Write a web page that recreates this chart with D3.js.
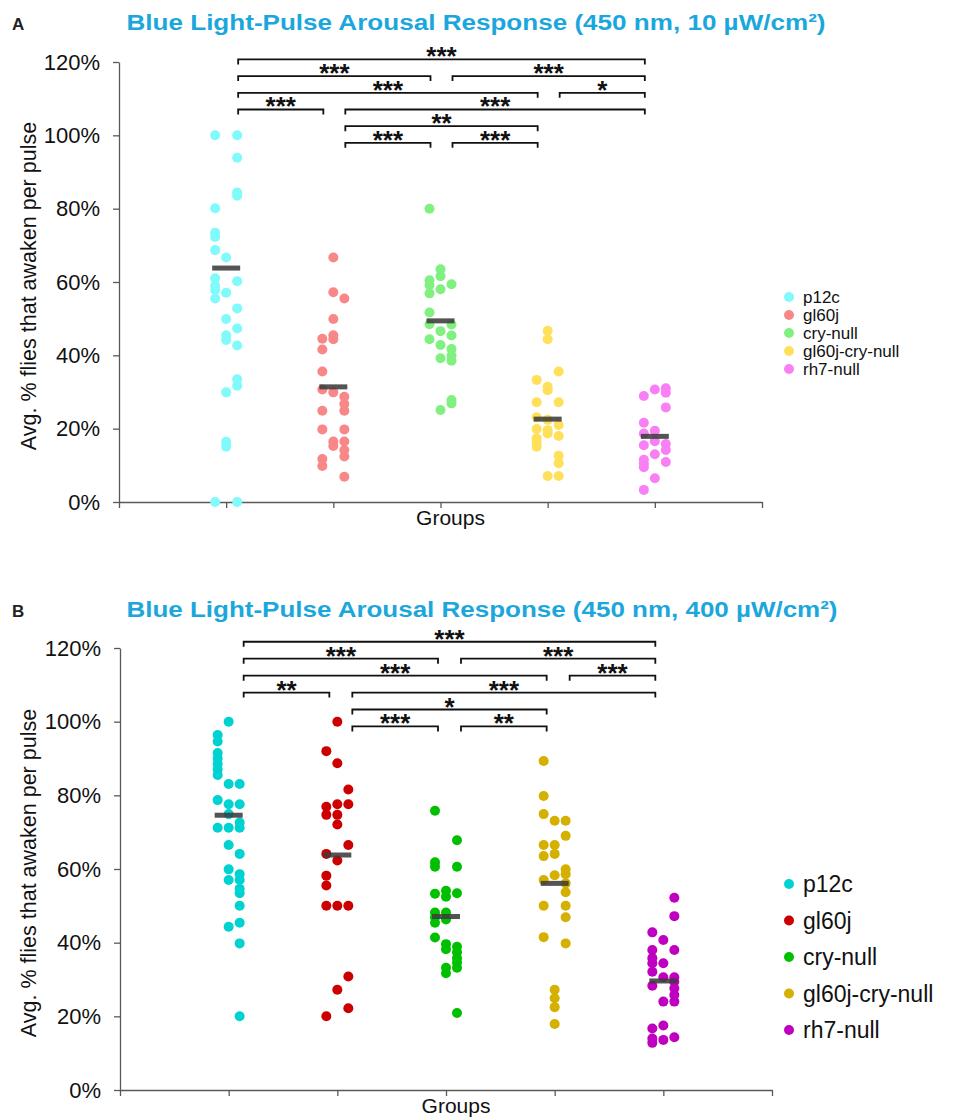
<!DOCTYPE html>
<html>
<head>
<meta charset="utf-8">
<script src="https://cdn.jsdelivr.net/npm/d3@7"></script>
<style>
  body { margin: 0; background: #fff; }
  text { font-family: "Liberation Sans", Arial, sans-serif; }
</style>
</head>
<body>
<svg id="chart" width="960" height="1117"></svg>
<script>
// ---- categories & labels ----
const groups = ["p12c", "gl60j", "cry-null", "gl60j-cry-null", "rh7-null"];
const yTicks = [0, 20, 40, 60, 80, 100, 120];
const titleA = "Blue Light-Pulse Arousal Response (450 nm, 10 µW/cm²)";
const titleB = "Blue Light-Pulse Arousal Response (450 nm, 400 µW/cm²)";
const yLabel = "Avg. % flies that awaken per pulse";
const xLabel = "Groups";

// ---- panel A (10 µW/cm²): per-fly values (%), split into three swarm lanes ----
const p12cA  = [[100, 80.1, 73.4, 72.3, 68.7, 61.0, 59.0, 57.8, 55.5, 0],
                [66.7, 57.1, 49.9, 45.5, 44.2, 29.9, 16.4, 15.1],
                [100, 93.9, 84.4, 83.5, 60.2, 52.8, 47.3, 42.7, 33.5, 31.7, 0]];
const gl60jA = [[44.5, 41.6, 35.6, 30.7, 24.9, 19.8, 11.7, 9.8],
                [66.7, 57.2, 49.9, 45.5, 44.4, 29.9, 16.5, 15.3],
                [55.5, 28.7, 26.7, 24.9, 19.8, 16.5, 14.2, 12.4, 6.9]];
const cryA   = [[80.0, 60.5, 59.2, 56.9, 51.7, 48.5, 44.4],
                [63.5, 61.6, 58.0, 46.6, 42.8, 39.2, 25.1],
                [59.4, 48.4, 45.4, 41.7, 39.9, 38.5, 27.8, 26.9]];
const gl60jCryA = [[33.3, 27.2, 23.1, 19.9, 17.4, 16.2, 15.1],
                   [46.7, 44.4, 31.4, 30.5, 22.4, 19.6, 18.7, 7.1],
                   [35.6, 27.2, 21.0, 18.0, 12.6, 10.6, 7.1]];
const rh7A   = [[28.9, 21.6, 18.7, 15.5, 11.5, 10.4, 9.5, 3.3],
                [30.7, 19.4, 16.6, 13.0, 6.5],
                [31.0, 29.8, 25.8, 15.8, 14.2, 10.9]];
const centersA = [63.8, 31.4, 49.4, 22.6, 17.9];

// ---- panel B (400 µW/cm²) ----
const p12cB  = [[96.4, 94.6, 91.5, 90.0, 88.5, 87.0, 85.5, 78.7, 71.2],
                [100, 83.1, 77.6, 74.9, 71.2, 66.5, 59.9, 57.0, 44.3],
                [83.1, 77.6, 72.6, 71.2, 64.1, 58.6, 57.0, 54.6, 53.4, 50.0, 45.4, 39.8, 20.0]];
const gl60jB = [[92.0, 76.9, 74.7, 64.1, 58.2, 55.5, 50.0, 20.0],
                [100, 88.7, 77.6, 74.7, 72.1, 62.3, 50.0, 27.2],
                [81.6, 77.6, 66.5, 50.0, 30.8, 22.2]];
const cryB   = [[75.8, 61.8, 60.6, 53.3, 48.2, 46.9, 45.4, 41.4],
                [54.1, 52.5, 48.2, 46.3, 39.6, 38.2, 33.2, 31.7],
                [67.8, 60.6, 53.4, 38.9, 37.4, 35.8, 34.6, 33.2, 20.9]];
const gl60jCryB = [[89.3, 79.8, 74.9, 66.5, 63.5, 57.0, 50.0, 41.5],
                   [73.1, 66.5, 64.1, 58.3, 27.2, 24.9, 22.5, 17.9],
                   [73.1, 69.0, 59.9, 58.6, 56.1, 53.7, 50.0, 46.9, 39.8]];
const rh7B   = [[42.8, 38.0, 35.8, 34.4, 32.1, 28.3, 16.7, 14.0, 12.8],
                [40.7, 34.4, 30.6, 24.0, 17.5, 13.6],
                [52.2, 47.2, 38.0, 30.6, 29.4, 27.6, 25.8, 24.0, 14.3]];
const centersB = [74.6, 63.8, 47.1, 56.1, 29.6];

// ---- pairwise significance, listed top row first: [groupFrom, groupTo, stars] ----
const sigA = [
  [[0, 4, "***"]],
  [[0, 2, "***"], [2, 4, "***"]],
  [[0, 3, "***"], [3, 4, "*"]],
  [[0, 1, "***"], [1, 4, "***"]],
  [[1, 3, "**"]],
  [[1, 2, "***"], [2, 3, "***"]]
];
const sigB = [
  [[0, 4, "***"]],
  [[0, 2, "***"], [2, 4, "***"]],
  [[0, 3, "***"], [3, 4, "***"]],
  [[0, 1, "**"], [1, 4, "***"]],
  [[1, 3, "*"]],
  [[1, 2, "***"], [2, 3, "**"]]
];

const coloursA = ["#80fafa", "#f88888", "#80f080", "#ffe05a", "#f880f4"];
const coloursB = ["#00d2d2", "#cc0000", "#00c000", "#d4b000", "#c000c0"];

const panels = [
  { letter: "A", title: titleA, data: [p12cA, gl60jA, cryA, gl60jCryA, rh7A], centers: centersA,
    colours: coloursA, sig: sigA,
    top: 62, bottom: 502, left: 119, right: 762, titleY: 30, titleX: 476, titleW: 699,
    sigTop: 120.7, sigStep: 4.55, bStart: 12, bEnd: 10,
    legendY: 297, legendStep: 18, legendFont: 17 },
  { letter: "B", title: titleB, data: [p12cB, gl60jB, cryB, gl60jCryB, rh7B], centers: centersB,
    colours: coloursB, sig: sigB,
    top: 648, bottom: 1090, left: 120, right: 772, titleY: 617, titleX: 482, titleW: 711,
    sigTop: 121.7, sigStep: 4.6, bStart: 15, bEnd: 8,
    legendY: 884, legendStep: 36.5, legendFont: 23 }
];

const svg = d3.select("#chart");
const axisColour = "#595959";

panels.forEach(p => {
  const g = svg.append("g");
  const y = d3.scaleLinear().domain([0, 120]).range([p.bottom, p.top]);
  const x = d3.scalePoint().domain(groups).range([p.left, p.right]).padding(1);
  const xTicks = d3.scaleLinear().domain([0, groups.length + 1]).range([p.left, p.right]);
  const lane = d3.scalePoint().domain([0, 1, 2]).range([-11, 11]);

  // panel letter and title
  g.append("text").attr("x", 12).attr("y", p.titleY)
    .attr("font-size", 17).attr("font-weight", "bold").attr("fill", "#222").text(p.letter);
  g.append("text").attr("x", p.titleX).attr("y", p.titleY).attr("text-anchor", "middle")
    .attr("font-size", 22).attr("font-weight", "bold").attr("fill", "#1ca7dc")
    .attr("textLength", p.titleW).attr("lengthAdjust", "spacingAndGlyphs")
    .text(p.title);

  // y axis
  const ya = g.append("g").attr("transform", `translate(${p.left},0)`)
    .call(d3.axisLeft(y).tickValues(yTicks).tickFormat(d => d + "%")
      .tickSize(6).tickPadding(13).tickSizeOuter(0));
  ya.select(".domain").attr("stroke", axisColour).attr("stroke-width", 1.3);
  ya.selectAll(".tick line").attr("stroke", axisColour).attr("stroke-width", 1.3);
  ya.selectAll(".tick text").attr("font-size", 22).attr("fill", "#111")
    .attr("font-family", "Liberation Sans, Arial, sans-serif");

  // x axis
  const xa = g.append("g").attr("transform", `translate(0,${y(0)})`)
    .call(d3.axisBottom(xTicks).tickValues(d3.range(groups.length + 2)).tickFormat("")
      .tickSize(6).tickSizeOuter(0));
  xa.select(".domain").attr("stroke", axisColour).attr("stroke-width", 1.3);
  xa.selectAll(".tick line").attr("stroke", axisColour).attr("stroke-width", 1.3);

  g.append("text").attr("x", (p.left + p.right) / 2 + 10).attr("y", y(0) + 23)
    .attr("text-anchor", "middle").attr("font-size", 21).attr("fill", "#111").text(xLabel);

  const midY = (y(0) + y(120)) / 2 + 4;
  g.append("text").attr("transform", `translate(36,${midY}) rotate(-90)`)
    .attr("text-anchor", "middle").attr("font-size", 21.5).attr("fill", "#111").text(yLabel);

  // dots
  groups.forEach((grp, gi) => {
    p.data[gi].forEach((laneVals, li) => {
      g.selectAll(null).data(laneVals).enter().append("circle")
        .attr("cx", x(grp) + lane(li))
        .attr("cy", d => y(d))
        .attr("r", 5)
        .attr("fill", p.colours[gi]);
    });
  });

  // centre bars
  g.selectAll(null).data(p.centers).enter().append("rect")
    .attr("x", (d, i) => x(groups[i]) - 14)
    .attr("y", d => y(d) - 2.5)
    .attr("width", 28).attr("height", 5)
    .attr("fill", "#3c3c3c").attr("opacity", 0.88);

  // significance brackets
  p.sig.forEach((row, ri) => {
    const yy = y(p.sigTop - ri * p.sigStep);
    row.forEach(([a, b, stars]) => {
      const x1 = x(groups[a]) + p.bStart, x2 = x(groups[b]) - p.bEnd;
      g.append("path")
        .attr("d", `M${x1},${yy + 5}V${yy}H${x2}V${yy + 5}`)
        .attr("fill", "none").attr("stroke", "#111").attr("stroke-width", 1.8);
      g.append("text").attr("x", (x1 + x2) / 2).attr("y", yy + 6)
        .attr("text-anchor", "middle").attr("font-size", 26).attr("font-weight", "bold")
        .attr("fill", "#111").text(stars);
    });
  });

  // legend
  groups.forEach((grp, gi) => {
    const ly = p.legendY + gi * p.legendStep;
    g.append("circle").attr("cx", 789).attr("cy", ly).attr("r", 5).attr("fill", p.colours[gi]);
    g.append("text").attr("x", 803).attr("y", ly + p.legendFont * 0.36)
      .attr("font-size", p.legendFont).attr("fill", "#111").text(grp);
  });
});
</script>
</body>
</html>
